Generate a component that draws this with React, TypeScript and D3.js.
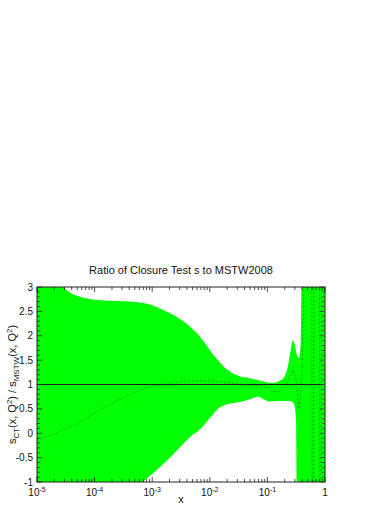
import { useEffect, useRef } from "react";
import * as d3 from "d3";

// upper edge of the band
const upperX = [
  1e-5, 2.05e-5, 2.72e-5, 3.32e-5, 4.05e-5, 5.58e-5, 1.24e-4, 4.64e-4, 9.16e-4,
  1.81e-3, 4.02e-3, 6.76e-3, 0.0123, 0.0224, 0.0334, 0.0499, 0.0687, 0.0908,
  0.125, 0.166, 0.2, 0.229, 0.258, 0.28, 0.3, 0.327, 0.354, 0.38, 0.39, 0.4, 1,
];
const upperY = [
  3.6, 3.2, 3.03, 2.93, 2.86, 2.8, 2.73, 2.7, 2.64, 2.49, 2.24, 1.98, 1.57, 1.26,
  1.17, 1.13, 1.09, 1.05, 1.03, 1.08, 1.17, 1.4, 1.75, 1.91, 1.8, 1.6, 1.55, 1.9,
  3.2, 5, 5,
];

// lower edge of the band
const lowerX = [
  1e-5, 6.92e-4, 2.04e-3, 4.53e-3, 6.76e-3, 0.0101, 0.0139, 0.0184, 0.0334,
  0.0499, 0.0687, 0.0873, 0.111, 0.166, 0.247, 0.29, 0.314, 0.327, 1,
];
const lowerY = [
  -3.0, -1, -0.5, -0.08, 0.08, 0.32, 0.5, 0.58, 0.64, 0.7, 0.75, 0.7, 0.65,
  0.66, 0.66, 0.6, 0.3, -1.5, -1.5,
];

// central value
const centralX = [
  1e-5, 1.68e-5, 3.32e-5, 7.0e-5, 1.24e-4, 2.26e-4, 4.64e-4, 9.16e-4, 1.81e-3,
  3.7e-3, 6.76e-3, 0.0123, 0.0224, 0.0408, 0.0745, 0.1, 0.125, 0.166, 0.2,
  0.247, 0.28, 0.314, 0.34, 0.354, 0.368, 0.399, 0.43, 0.45, 0.58, 0.61, 0.63,
  0.65, 0.8, 0.82, 0.85, 0.87, 1,
];
const centralY = [
  -0.15, -0.05, 0.1, 0.3, 0.48, 0.65, 0.82, 0.95, 1.02, 1.07, 1.08, 1.07, 1.03,
  1.0, 0.97, 0.93, 0.85, 0.86, 0.95, 1.15, 1.3, 1.1, 0.7, 0.5, 0.7, 1.2, 3, 6,
  6, -4, -4, 6, 6, -4, -4, 6, 6,
];

const yTicks = [3, 2.5, 2, 1.5, 1, 0.5, 0, -0.5, -1];
const xTickExp = [-5, -4, -3, -2, -1, 0];

const FONT = "'Liberation Sans', Arial, Helvetica, sans-serif";

export default function App() {
  const ref = useRef<SVGSVGElement>(null);

  useEffect(() => {
    if (!ref.current) return;
    const svg = d3.select(ref.current);
    svg.selectAll("*").remove();

    const W = 392;
    const H = 508;
    const m = { top: 287, right: 67, bottom: 26, left: 37 };
    const w = W - m.left - m.right;
    const h = H - m.top - m.bottom;

    const x = d3.scaleLog().domain([1e-5, 1]).range([0, w]);
    const y = d3.scaleLinear().domain([-1, 3]).range([h, 0]);

    const g = svg
      .append("g")
      .attr("transform", `translate(${m.left},${m.top})`);

    g.append("clipPath")
      .attr("id", "plot-clip")
      .append("rect")
      .attr("width", w)
      .attr("height", h);

    const plot = g.append("g").attr("clip-path", "url(#plot-clip)");

    // band: smooth upper edge, then smooth lower edge walked back
    const edge = d3
      .line<[number, number]>()
      .x((d) => d[0])
      .y((d) => d[1])
      .curve(d3.curveMonotoneX);
    const upper = upperX.map((v, i) => [x(v), y(upperY[i])] as [number, number]);
    const lower = lowerX.map((v, i) => [x(v), y(lowerY[i])] as [number, number]);
    const up = edge(upper) ?? "";
    const lowRev = (
      d3
        .line<[number, number]>()
        .x((d) => d[0])
        .y((d) => d[1])
        .curve(d3.curveMonotoneX)(lower.slice().reverse()) ?? ""
    ).replace(/^M/, "L");
    plot
      .append("path")
      .attr("d", up + lowRev + "Z")
      .attr("fill", "#00ff00")
      .attr("stroke", "none");

    // reference line at 1
    plot
      .append("line")
      .attr("x1", 0)
      .attr("x2", w)
      .attr("y1", y(1))
      .attr("y2", y(1))
      .attr("stroke", "#1a1a1a")
      .attr("stroke-width", 1);

    // central value
    const central = d3
      .line<number>()
      .x((d) => x(d))
      .y((_, i) => y(centralY[i]));
    plot
      .append("path")
      .attr("d", central(centralX))
      .attr("fill", "none")
      .attr("stroke", "#333")
      .attr("stroke-opacity", 0.6)
      .attr("stroke-width", 0.7)
      .attr("stroke-dasharray", "2,2");

    // frame
    g.append("rect")
      .attr("width", w)
      .attr("height", h)
      .attr("fill", "none")
      .attr("stroke", "#222")
      .attr("stroke-width", 1);

    // y ticks (major + minor), left and right, pointing inward
    const yMinor = d3.range(-10, 31).map((d) => d / 10);
    yMinor.forEach((v) => {
      const major = Math.abs(v * 2 - Math.round(v * 2)) < 1e-6;
      const len = major ? 5 : 3;
      g.append("line")
        .attr("x1", 0)
        .attr("x2", len)
        .attr("y1", y(v))
        .attr("y2", y(v))
        .attr("stroke", "#222")
        .attr("stroke-width", 0.8);
      g.append("line")
        .attr("x1", w)
        .attr("x2", w - len)
        .attr("y1", y(v))
        .attr("y2", y(v))
        .attr("stroke", "#444")
        .attr("stroke-width", 0.8);
    });

    // x ticks (decades + minors), bottom and top
    xTickExp.forEach((e) => {
      const mults = e < 0 ? d3.range(1, 10) : [1];
      mults.forEach((k) => {
        const v = k * Math.pow(10, e);
        const len = k === 1 ? 5 : 3;
        g.append("line")
          .attr("x1", x(v))
          .attr("x2", x(v))
          .attr("y1", h)
          .attr("y2", h - len)
          .attr("stroke", "#222")
          .attr("stroke-width", 0.8);
        g.append("line")
          .attr("x1", x(v))
          .attr("x2", x(v))
          .attr("y1", 0)
          .attr("y2", len)
          .attr("stroke", "#222")
          .attr("stroke-width", 0.8);
      });
    });

    // y tick labels
    yTicks.forEach((v) => {
      g.append("text")
        .attr("x", -4)
        .attr("y", y(v))
        .attr("dy", "0.35em")
        .attr("text-anchor", "end")
        .attr("font-family", FONT)
        .attr("font-size", 10)
        .attr("fill", "#111")
        .text(String(v));
    });

    // x tick labels
    xTickExp.forEach((e) => {
      const t = g
        .append("text")
        .attr("x", x(Math.pow(10, e)))
        .attr("y", h + 14)
        .attr("text-anchor", "middle")
        .attr("font-family", FONT)
        .attr("font-size", 10)
        .attr("fill", "#111");
      if (e === 0) {
        t.text("1");
      } else {
        t.append("tspan").text("10");
        t.append("tspan")
          .attr("dy", -4)
          .attr("font-size", 7)
          .text(String(e));
      }
    });

    // title
    svg
      .append("text")
      .attr("x", m.left + w / 2)
      .attr("y", 274)
      .attr("text-anchor", "middle")
      .attr("font-family", FONT)
      .attr("font-size", 11)
      .attr("fill", "#111")
      .text("Ratio of Closure Test s to MSTW2008");

    // x label
    svg
      .append("text")
      .attr("x", m.left + w / 2)
      .attr("y", 503)
      .attr("text-anchor", "middle")
      .attr("font-family", FONT)
      .attr("font-size", 11)
      .attr("fill", "#111")
      .text("x");

    // y label
    const yl = svg
      .append("text")
      .attr("transform", `translate(16,${m.top + h / 2}) rotate(-90)`)
      .attr("text-anchor", "middle")
      .attr("font-family", FONT)
      .attr("font-size", 11)
      .attr("fill", "#111");
    yl.append("tspan").text("s");
    yl.append("tspan").attr("dy", 3).attr("font-size", 8).text("CT");
    yl.append("tspan").attr("dy", -3).text("(x, Q");
    yl.append("tspan").attr("dy", -4).attr("font-size", 8).text("2");
    yl.append("tspan").attr("dy", 4).text(") / s");
    yl.append("tspan").attr("dy", 3).attr("font-size", 8).text("MSTW");
    yl.append("tspan").attr("dy", -3).text("(x, Q");
    yl.append("tspan").attr("dy", -4).attr("font-size", 8).text("2");
    yl.append("tspan").attr("dy", 4).text(")");
  }, []);

  return (
    <svg
      ref={ref}
      width={392}
      height={508}
      style={{ position: "absolute", left: 0, top: 0, background: "#fff" }}
    />
  );
}
